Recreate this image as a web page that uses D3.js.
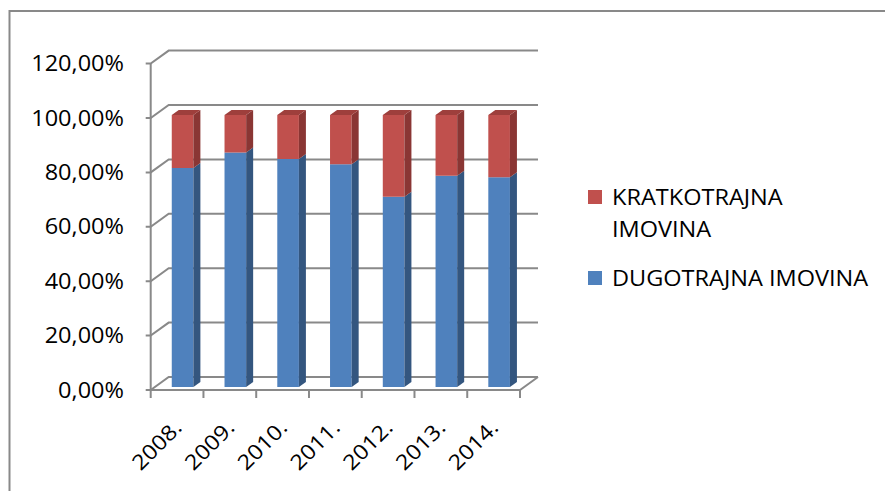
<!DOCTYPE html>
<html><head><meta charset="utf-8">
<script src="https://cdn.jsdelivr.net/npm/d3@7"></script>
<style>html,body{margin:0;padding:0;background:#fff;}svg{display:block;font-family:"Open Sans",sans-serif;}</style>
</head><body>
<svg id="c" width="885" height="491"></svg>
<script>
const years = ["2008.", "2009.", "2010.", "2011.", "2012.", "2013.", "2014."];
const dugotrajna = [80.5, 86.2, 83.8, 81.9, 69.9, 77.7, 77.1];
const kratkotrajna = [19.5, 13.8, 16.2, 18.1, 30.1, 22.3, 22.9];
const seriesNames = ["KRATKOTRAJNA IMOVINA", "DUGOTRAJNA IMOVINA"];
const yTicks = [0, 20, 40, 60, 80, 100, 120];

const svg = d3.select("#c");
const gridColor = "#898989";
const blue = "#4F81BD", blueSide = "#34567F", red = "#C0504D", redSide = "#8A3634", redTop = "#9E3F3C";
const stretch = 1.12;
function widen(sel) {
  sel.each(function () {
    const L = this.getComputedTextLength();
    d3.select(this).attr("textLength", L * stretch).attr("lengthAdjust", "spacingAndGlyphs");
  });
  return sel;
}

// frame
svg.append("rect").attr("x", 9.5).attr("y", 11).attr("width", 900).attr("height", 500)
  .attr("fill", "none").attr("stroke", gridColor).attr("stroke-width", 2);

const y = d3.scaleLinear().domain([0, 120]).range([390, 63.6]);
const x = d3.scaleBand().domain(years).range([150.7, 520]).padding(0);
const dx = 18, dy = -13;          // wall depth
const bx = 5.5, by = -3;          // bar front plane offset
const bdx = 7, bdy = -5;          // bar depth
const fmt = d3.formatLocale({decimal: ",", thousands: ".", grouping: [3], currency: ["", "€"]}).format(".2%");

const x0 = x.range()[0], x1 = x.range()[1];
const g = svg.append("g");

yTicks.forEach(t => {
  const yy = y(t);
  g.append("path").attr("d", `M${x0 - 5},${yy}H${x0}L${x0 + dx},${yy + dy}H${x1 + dx}`)
    .attr("fill", "none").attr("stroke", gridColor).attr("stroke-width", 2);
});
g.append("path").attr("d", `M${x0},${y(0)}H${x1}L${x1 + dx},${y(0) + dy}`)
  .attr("fill", "none").attr("stroke", gridColor).attr("stroke-width", 2);
g.append("line").attr("x1", x0).attr("x2", x0).attr("y1", y(0)).attr("y2", y(120))
  .attr("stroke", gridColor).attr("stroke-width", 2);
const tickPos = years.map(d => x(d)).concat([x1]);
tickPos.forEach(p => {
  g.append("line").attr("x1", p).attr("x2", p).attr("y1", y(0)).attr("y2", y(0) + 8)
    .attr("stroke", gridColor).attr("stroke-width", 2);
});

yTicks.forEach(t => {
  widen(svg.append("text").attr("x", 124).attr("y", y(t)).attr("dy", "0.36em")
    .attr("text-anchor", "end").attr("font-size", 21).attr("fill", "#000").text(fmt(t / 100)));
});

const bw = x.bandwidth() * 0.41;
const yb = v => y(v) + by;
function face(pts, fill) {
  g.append("path").attr("d", "M" + pts.map(p => p.join(",")).join("L") + "Z").attr("fill", fill);
}
years.forEach((yr, i) => {
  const left = x(yr) + (x.bandwidth() - bw) / 2 + bx;
  const right = left + bw;
  const segs = [[0, dugotrajna[i], blue, blueSide], [dugotrajna[i], dugotrajna[i] + kratkotrajna[i], red, redSide]];
  segs.forEach(([a, b, c, cs]) => {
    const ya = yb(a), ybb = yb(b);
    face([[left, ybb], [right, ybb], [right, ya], [left, ya]], c);
    face([[right, ya], [right + bdx, ya + bdy], [right + bdx, ybb + bdy], [right, ybb]], cs);
  });
  const top = yb(dugotrajna[i] + kratkotrajna[i]);
  face([[left, top], [right, top], [right + bdx, top + bdy], [left + bdx, top + bdy]], redTop);
});

years.forEach(yr => {
  const cx = x(yr) + x.bandwidth() / 2 + 6;
  widen(svg.append("text").attr("transform", `translate(${cx},429) rotate(-45)`)
    .attr("text-anchor", "end").attr("font-size", 21).attr("fill", "#000").text(yr));
});

const leg = svg.append("g");
leg.append("rect").attr("x", 588).attr("y", 190).attr("width", 14).attr("height", 14).attr("fill", red);
widen(leg.append("text").attr("x", 612).attr("y", 205).attr("font-size", 21).text("KRATKOTRAJNA"));
widen(leg.append("text").attr("x", 612).attr("y", 237).attr("font-size", 21).text("IMOVINA"));
leg.append("rect").attr("x", 588).attr("y", 271).attr("width", 14).attr("height", 14).attr("fill", blue);
widen(leg.append("text").attr("x", 612).attr("y", 286).attr("font-size", 21).text(seriesNames[1]));
</script>
</body></html>
